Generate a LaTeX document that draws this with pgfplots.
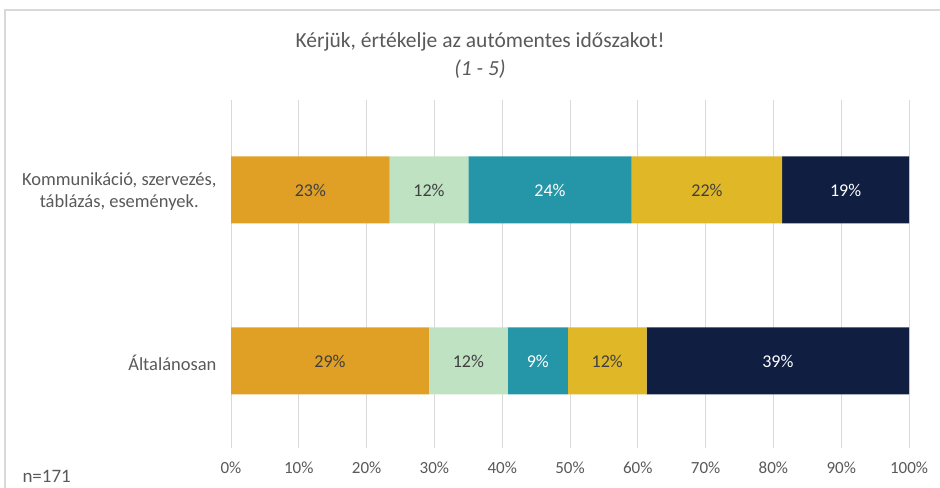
\documentclass[border=0pt]{standalone}
\usepackage{fontspec}
\setmainfont{Carlito}
\usepackage{pgfplots}
\pgfplotsset{compat=1.18}
\definecolor{c1}{HTML}{E0A026}
\definecolor{c2}{HTML}{BFE2C2}
\definecolor{c3}{HTML}{2596A7}
\definecolor{c4}{HTML}{DFB727}
\definecolor{c5}{HTML}{0F1E41}
\definecolor{txt}{HTML}{595959}
\definecolor{lbl}{HTML}{404040}
\definecolor{grd}{HTML}{D9D9D9}

\begin{document}
\begin{tikzpicture}[x=1bp,y=1bp]
\useasboundingbox (0,0) rectangle (940,488);
\draw[grd, line width=1.2bp] (5,0) -- (5,478) -- (940,478);
\begin{axis}[
  at={(231bp,40bp)}, anchor=south west,
  width=678bp, height=348bp, scale only axis,
  xbar stacked, bar width=67bp,
  xmin=0, xmax=100, ymin=-0.509, ymax=1.526,
  /pgf/number format/assume math mode=true,
  ytick={0,1},
  yticklabels={Általánosan, {Kommunikáció, szervezés,\\táblázás, események.}},
  yticklabel style={align=center, anchor=east, xshift=-11bp, yshift=-2bp,
    font=\fontsize{18.5bp}{22bp}\selectfont, text=txt},
  xtick={0,10,...,100},
  xticklabels={0\%,10\%,20\%,30\%,40\%,50\%,60\%,70\%,80\%,90\%,100\%},
  xticklabel style={anchor=center, yshift=-20bp,
    font=\fontsize{17bp}{20bp}\selectfont, text=txt},
  xmajorgrids, major grid style={grd, line width=1bp},
  axis line style={draw=none}, major tick length=0pt,
  visualization depends on={rawx \as \rawx},
  nodes near coords={\pgfmathprintnumber[fixed,precision=0]{\rawx}\%},
  every node near coord/.append style={anchor=center,
    font=\fontsize{18bp}{20bp}\selectfont, text=lbl},
]
\addplot[fill=c1, draw=none] coordinates {(29.2,0) (23.4,1)};
\addplot[fill=c2, draw=none] coordinates {(11.6,0) (11.6,1)};
\addplot[fill=c3, draw=none, every node near coord/.append style={text=white}] coordinates {(8.9,0) (24.1,1)};
\addplot[fill=c4, draw=none] coordinates {(11.6,0) (22.2,1)};
\addplot[fill=c5, draw=none, every node near coord/.append style={text=white}] coordinates {(38.7,0) (18.7,1)};
\end{axis}
\node[text=txt, font=\fontsize{21.5bp}{24bp}\selectfont] at (480,446) {Kérjük, értékelje az autómentes időszakot!};
\node[text=txt, font=\fontsize{21.5bp}{24bp}\selectfont\itshape] at (480,419) {(1 - 5)};
\node[text=txt, anchor=west, font=\fontsize{19bp}{22bp}\selectfont] at (19,12) {n=171};
\end{tikzpicture}
\end{document}
